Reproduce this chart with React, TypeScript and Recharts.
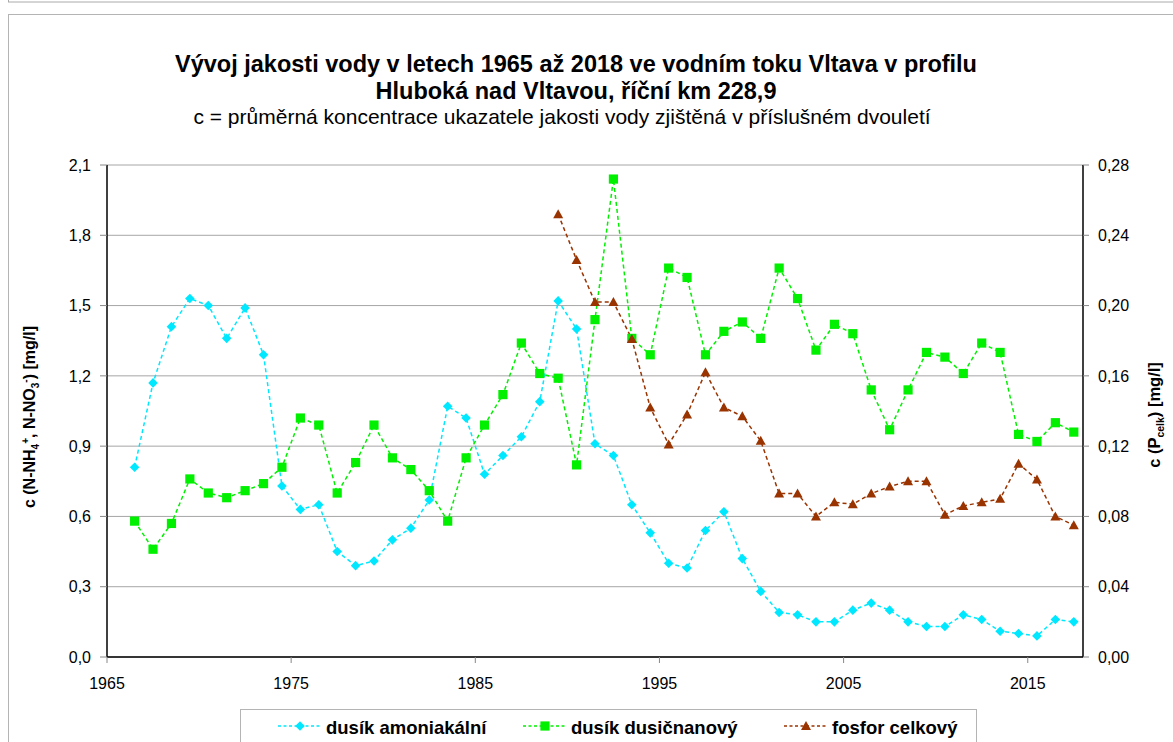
import { CartesianGrid, Label, Line, LineChart, XAxis, YAxis } from "recharts";

// midpoints of the two-year periods
const years = [
  1966.5, 1967.5, 1968.5, 1969.5, 1970.5, 1971.5, 1972.5, 1973.5, 1974.5, 1975.5,
  1976.5, 1977.5, 1978.5, 1979.5, 1980.5, 1981.5, 1982.5, 1983.5, 1984.5, 1985.5,
  1986.5, 1987.5, 1988.5, 1989.5, 1990.5, 1991.5, 1992.5, 1993.5, 1994.5, 1995.5,
  1996.5, 1997.5, 1998.5, 1999.5, 2000.5, 2001.5, 2002.5, 2003.5, 2004.5, 2005.5,
  2006.5, 2007.5, 2008.5, 2009.5, 2010.5, 2011.5, 2012.5, 2013.5, 2014.5, 2015.5,
  2016.5, 2017.5,
];

const amoniakalni = [
  0.81, 1.17, 1.41, 1.53, 1.5, 1.36, 1.49, 1.29, 0.73, 0.63,
  0.65, 0.45, 0.39, 0.41, 0.5, 0.55, 0.67, 1.07, 1.02, 0.78,
  0.86, 0.94, 1.09, 1.52, 1.4, 0.91, 0.86, 0.65, 0.53, 0.4,
  0.38, 0.54, 0.62, 0.42, 0.28, 0.19, 0.18, 0.15, 0.15, 0.2,
  0.23, 0.2, 0.15, 0.13, 0.13, 0.18, 0.16, 0.11, 0.1, 0.09,
  0.16, 0.15,
];

const dusicnanovy = [
  0.58, 0.46, 0.57, 0.76, 0.7, 0.68, 0.71, 0.74, 0.81, 1.02,
  0.99, 0.7, 0.83, 0.99, 0.85, 0.8, 0.71, 0.58, 0.85, 0.99,
  1.12, 1.34, 1.21, 1.19, 0.82, 1.44, 2.04, 1.36, 1.29, 1.66,
  1.62, 1.29, 1.39, 1.43, 1.36, 1.66, 1.53, 1.31, 1.42, 1.38,
  1.14, 0.97, 1.14, 1.3, 1.28, 1.21, 1.34, 1.3, 0.95, 0.92,
  1.0, 0.96,
];

const fosfor = [
  null, null, null, null, null, null, null, null, null, null,
  null, null, null, null, null, null, null, null, null, null,
  null, null, null, 0.252, 0.226, 0.202, 0.202, 0.181, 0.142, 0.121,
  0.138, 0.162, 0.142, 0.137, 0.123, 0.093, 0.093, 0.08, 0.088, 0.087,
  0.093, 0.097, 0.1, 0.1, 0.081, 0.086, 0.088, 0.09, 0.11, 0.101,
  0.08, 0.075,
];

const xTicks = [1965, 1975, 1985, 1995, 2005, 2015];
const leftTicks = [0, 0.3, 0.6, 0.9, 1.2, 1.5, 1.8, 2.1];
const rightTicks = [0, 0.04, 0.08, 0.12, 0.16, 0.2, 0.24, 0.28];

const data = years.map((x, i) => ({
  x,
  nh4: amoniakalni[i],
  no3: dusicnanovy[i],
  p: fosfor[i],
}));

const FONT = "'Liberation Sans', Arial, Helvetica, sans-serif";
const CYAN = "#00E8FF";
const GREEN = "#00F000";
const BROWN = "#993300";
const GRID = "#a6a6a6";
const DASH = "4 3";

function diamond(cx: number, cy: number, r: number) {
  return `M${cx},${cy - r}L${cx + r},${cy}L${cx},${cy + r}L${cx - r},${cy}Z`;
}
function triangle(cx: number, cy: number, r: number) {
  return `M${cx},${cy - r}L${cx + r},${cy + r * 0.8}L${cx - r},${cy + r * 0.8}Z`;
}

const DiamondDot = (props: any) => {
  const { cx, cy, index } = props;
  if (cx == null || cy == null) return <g key={`d${index}`} />;
  return <path key={`d${index}`} d={diamond(cx, cy, 4.8)} fill={CYAN} />;
};
const SquareDot = (props: any) => {
  const { cx, cy, index } = props;
  if (cx == null || cy == null) return <g key={`s${index}`} />;
  return <rect key={`s${index}`} x={cx - 4.6} y={cy - 4.6} width={9.2} height={9.2} fill={GREEN} />;
};
const TriangleDot = (props: any) => {
  const { cx, cy, index } = props;
  if (cx == null || cy == null) return <g key={`t${index}`} />;
  return <path key={`t${index}`} d={triangle(cx, cy, 5)} fill={BROWN} />;
};

const fmt1 = (v: number) => v.toFixed(1).replace(".", ",");
const fmt2 = (v: number) => v.toFixed(2).replace(".", ",");

const LeftLabel = () => (
  <text
    x={35}
    y={417}
    transform="rotate(-90 35 417)"
    textAnchor="middle"
    fontFamily={FONT}
    fontSize={16}
    fontWeight="bold"
    fill="#000"
  >
    c (N-NH
    <tspan fontSize={10} dy={4}>4</tspan>
    <tspan fontSize={10} dy={-10}>+</tspan>
    <tspan dy={6}>, N-NO</tspan>
    <tspan fontSize={10} dy={4}>3</tspan>
    <tspan fontSize={10} dy={-10}>-</tspan>
    <tspan dy={6}>) [mg/l]</tspan>
  </text>
);

const RightLabel = () => (
  <text
    x={1160}
    y={415}
    transform="rotate(-90 1160 415)"
    textAnchor="middle"
    fontFamily={FONT}
    fontSize={16.5}
    fontWeight="bold"
    fill="#000"
  >
    c (P
    <tspan fontSize={10.5} dy={4}>celk</tspan>
    <tspan dy={-4}>) [mg/l]</tspan>
  </text>
);

const tickStyle = { fontFamily: FONT, fontSize: 16, fill: "#000" };

function LegendItem({ x, color, shape, label }: { x: number; color: string; shape: string; label: string }) {
  const y = 726;
  const m = x + 22;
  return (
    <g>
      <line x1={x} y1={y} x2={x + 44} y2={y} stroke={color} strokeWidth={1.5} strokeDasharray="3 2.5" />
      {shape === "diamond" && <path d={diamond(m, y, 4.8)} fill={color} />}
      {shape === "square" && <rect x={m - 4.6} y={y - 4.6} width={9.2} height={9.2} fill={color} />}
      {shape === "triangle" && <path d={triangle(m, y, 5)} fill={color} />}
      <text x={x + 48} y={734} fontFamily={FONT} fontSize={18.5} fontWeight="bold" fill="#000">
        {label}
      </text>
    </g>
  );
}

export default function App() {
  return (
    <div
      style={{
        position: "absolute",
        left: 0,
        top: 0,
        width: 1173,
        height: 742,
        overflow: "hidden",
        background: "#fff",
      }}
    >
      <svg width={1173} height={742} style={{ position: "absolute", left: 0, top: 0 }}>
        <rect x={8.5} y={-20} width={1200} height={22} fill="none" stroke="#aaa" />
        <rect x={8.5} y={14.5} width={1200} height={800} fill="none" stroke="#b4b4b4" />
        <g fontFamily={FONT} fill="#000" textAnchor="middle">
          <text x={576} y={72} fontSize={23.5} fontWeight="bold">
            Vývoj jakosti vody v letech 1965 až 2018 ve vodním toku Vltava v profilu
          </text>
          <text x={576} y={99} fontSize={23.5} fontWeight="bold">
            Hluboká nad Vltavou, říční km 228,9
          </text>
          <text x={562} y={124} fontSize={21}>
            c = průměrná koncentrace ukazatele jakosti vody zjištěná v příslušném dvouletí
          </text>
        </g>
        <rect x={240.5} y={709.5} width={736} height={60} fill="none" stroke="#b4b4b4" />
        <LegendItem x={278} color={CYAN} shape="diamond" label="dusík amoniakální" />
        <LegendItem x={523} color={GREEN} shape="square" label="dusík dusičnanový" />
        <LegendItem x={784} color={BROWN} shape="triangle" label="fosfor celkový" />
      </svg>
      <div style={{ position: "absolute", left: 0, top: 0 }}>
        <LineChart width={1173} height={742} data={data} margin={{ top: 165, right: 0, bottom: 0, left: 0 }}>
          <CartesianGrid yAxisId="left" horizontal vertical={false} stroke={GRID} strokeWidth={1} />
          <XAxis
            dataKey="x"
            type="number"
            domain={[1965, 2018]}
            ticks={xTicks}
            allowDataOverflow
            height={85}
            tick={tickStyle}
            tickSize={6}
            tickMargin={15}
            tickLine={{ stroke: "#888" }}
            axisLine={{ stroke: "#000", strokeWidth: 1.5 }}
          />
          <YAxis
            yAxisId="left"
            orientation="left"
            width={107}
            domain={[0, 2.1]}
            ticks={leftTicks}
            allowDataOverflow
            tickFormatter={fmt1}
            tick={tickStyle}
            tickSize={7}
            tickMargin={9}
            tickLine={{ stroke: "#888" }}
            axisLine={{ stroke: "#000", strokeWidth: 1.5 }}
            label={<Label content={<LeftLabel />} />}
          />
          <YAxis
            yAxisId="right"
            orientation="right"
            width={90}
            domain={[0, 0.28]}
            ticks={rightTicks}
            allowDataOverflow
            tickFormatter={fmt2}
            tick={tickStyle}
            tickSize={6}
            tickMargin={9}
            tickLine={{ stroke: "#888" }}
            axisLine={{ stroke: "#000", strokeWidth: 1.5 }}
            label={<Label content={<RightLabel />} />}
          />
          <Line
            yAxisId="left"
            dataKey="nh4"
            type="linear"
            stroke={CYAN}
            strokeWidth={1.5}
            strokeDasharray={DASH}
            dot={DiamondDot}
            activeDot={false}
            isAnimationActive={false}
          />
          <Line
            yAxisId="left"
            dataKey="no3"
            type="linear"
            stroke={GREEN}
            strokeWidth={1.5}
            strokeDasharray={DASH}
            dot={SquareDot}
            activeDot={false}
            isAnimationActive={false}
          />
          <Line
            yAxisId="right"
            dataKey="p"
            type="linear"
            stroke={BROWN}
            strokeWidth={1.5}
            strokeDasharray={DASH}
            dot={TriangleDot}
            activeDot={false}
            isAnimationActive={false}
          />
        </LineChart>
      </div>
    </div>
  );
}
